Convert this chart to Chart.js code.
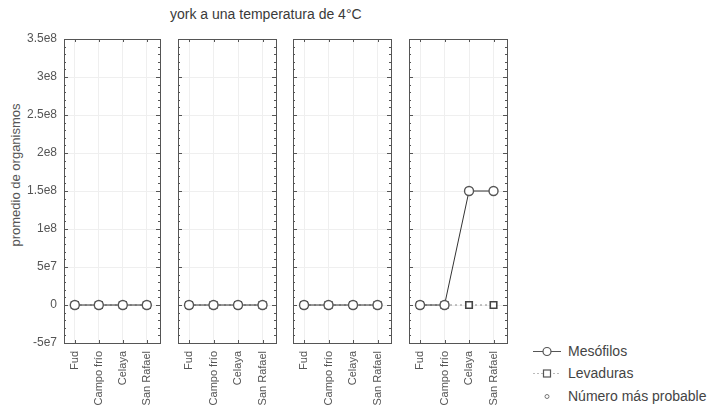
<!DOCTYPE html>
<html>
<head>
<meta charset="utf-8">
<script src="https://cdn.jsdelivr.net/npm/chart.js@4/dist/chart.umd.min.js"></script>
<style>
  body { margin: 0; background: #fff; }
  #wrap { position: relative; width: 723px; height: 412px; overflow: hidden;
          font-family: 'Liberation Sans', Arial, sans-serif; color: #444; }
  #wrap canvas { position: absolute; top: 0; }
  #title { position: absolute; left: 170px; top: 6px; font-size: 14px; color: #3a3a3a; white-space: nowrap; }
  #ytitle { position: absolute; left: 15px; top: 175px; font-size: 13px; color: #555; white-space: nowrap;
            transform: translate(-50%, -50%) rotate(-90deg); }
  .leg { position: absolute; left: 530px; height: 16px; font-size: 14px; color: #444; white-space: nowrap; }
  .leg svg { position: absolute; left: 0; top: 0; }
  .leg span { position: absolute; left: 38px; top: 0; line-height: 16px; }
</style>
</head>
<body>
<div id="wrap">
  <div id="title">york a una temperatura de 4°C</div>
  <div id="ytitle">promedio de organismos</div>
  <div class="leg" style="top:343px">
    <svg width="34" height="16"><line x1="3" y1="8.5" x2="31" y2="8.5" stroke="#555" stroke-width="1"/><circle cx="17" cy="8.5" r="4" fill="#fff" stroke="#555" stroke-width="1.2"/></svg>
    <span>Mesófilos</span>
  </div>
  <div class="leg" style="top:365px">
    <svg width="34" height="16"><line x1="3" y1="8.5" x2="31" y2="8.5" stroke="#bbb" stroke-width="1" stroke-dasharray="2,2"/><rect x="13.5" y="5" width="7" height="7" fill="#fff" stroke="#555" stroke-width="1.2"/></svg>
    <span>Levaduras</span>
  </div>
  <div class="leg" style="top:388px">
    <svg width="34" height="16"><circle cx="17" cy="8.5" r="2" fill="#fff" stroke="#777" stroke-width="1"/></svg>
    <span>Número más probable</span>
  </div>
</div>
<script>
// Sampling sites along the x axis of every panel
const categories = ['Fud', 'Campo frío', 'Celaya', 'San Rafael'];

// Mean organism counts, one row per panel
const mesofilos = [
  [0, 0, 0, 0],
  [0, 0, 0, 0],
  [0, 0, 0, 0],
  [0, 0, 1.5e8, 1.5e8]
];
const levaduras = [
  [0, 0, 0, 0],
  [0, 0, 0, 0],
  [0, 0, 0, 0],
  [0, 0, 0, 0]
];
const numeroMasProbable = [
  [0, 0, 0, 0],
  [0, 0, 0, 0],
  [0, 0, 0, 0],
  [0, 0, 0, 0]
];

// Value axis labels, bottom to top
const yTickLabels = ['-5e7', '0', '5e7', '1e8', '1.5e8', '2e8', '2.5e8', '3e8', '3.5e8'];

// Panel plot-area edges in page pixels
const panelLeft  = [64, 178, 293, 409];
const panelRight = [160, 276, 391, 507];
const PLOT_TOP = 39, PLOT_BOTTOM = 343, H = 412;
const Y_AXIS_W = 64, SIDE_PAD = 10;

const FONT = "'Liberation Sans', Arial, sans-serif";

// Box frame with minor ticks, drawn on every panel
const framePlugin = {
  id: 'frame',
  beforeDatasetsDraw(chart) {
    const { ctx, chartArea: a, scales } = chart;
    ctx.save();
    ctx.strokeStyle = '#555';
    ctx.lineWidth = 1;
    ctx.strokeRect(Math.round(a.left) + 0.5, Math.round(a.top) + 0.5,
                   Math.round(a.right - a.left), Math.round(a.bottom - a.top));
    ctx.beginPath();
    for (let k = -5; k <= 35; k++) {
      const y = Math.round(scales.y.getPixelForValue(k * 1e7)) + 0.5;
      const len = k % 5 === 0 ? 4 : 2;
      ctx.moveTo(a.left, y); ctx.lineTo(a.left + len, y);
      ctx.moveTo(a.right - len, y); ctx.lineTo(a.right, y);
    }
    categories.forEach((c, i) => {
      const x = Math.round(scales.x.getPixelForValue(i)) + 0.5;
      ctx.moveTo(x, a.top); ctx.lineTo(x, a.top + 3);
      ctx.moveTo(x, a.bottom - 3); ctx.lineTo(x, a.bottom);
    });
    ctx.stroke();
    ctx.restore();
  }
};

const toPoints = vals => vals.map((v, i) => ({ x: i, y: v }));

function makePanel(p) {
  const first = p === 0;
  const padL = first ? 0 : SIDE_PAD;
  const yW = first ? Y_AXIS_W : 0;
  const canvasLeft = panelLeft[p] - yW - padL;
  const width = padL + yW + (panelRight[p] - panelLeft[p]) + SIDE_PAD;

  const canvas = document.createElement('canvas');
  canvas.width = width;
  canvas.height = H;
  canvas.style.left = canvasLeft + 'px';
  canvas.style.width = width + 'px';
  canvas.style.height = H + 'px';
  document.getElementById('wrap').appendChild(canvas);

  new Chart(canvas, {
    type: 'line',
    data: {
      datasets: [
        {
          label: 'Mesófilos',
          data: toPoints(mesofilos[p]),
          borderColor: '#333', borderWidth: 1,
          pointStyle: 'circle', pointRadius: 4.5, pointBorderWidth: 1.4,
          pointBorderColor: '#555', pointBackgroundColor: '#fff',
          tension: 0, order: 1
        },
        {
          label: 'Levaduras',
          data: toPoints(levaduras[p]),
          borderColor: '#888', borderWidth: 1, borderDash: [2, 3],
          pointStyle: 'rect', pointRadius: 4.6, pointBorderWidth: 1.6,
          pointBorderColor: '#444', pointBackgroundColor: '#fff',
          tension: 0, order: 2
        },
        {
          label: 'Número más probable',
          data: toPoints(numeroMasProbable[p]),
          showLine: false,
          pointStyle: 'circle', pointRadius: 2, pointBorderWidth: 1,
          pointBorderColor: '#666', pointBackgroundColor: '#fff',
          order: 3
        }
      ]
    },
    options: {
      responsive: false,
      animation: false,
      devicePixelRatio: 1,
      layout: { padding: { top: PLOT_TOP, left: padL, right: SIDE_PAD, bottom: 0 } },
      plugins: { legend: { display: false }, tooltip: { enabled: false } },
      scales: {
        x: {
          type: 'linear',
          min: -0.45, max: 3.55,
          afterBuildTicks: s => { s.ticks = categories.map((c, i) => ({ value: i })); },
          afterFit: s => { s.height = H - PLOT_BOTTOM; },
          grid: { color: '#efefef', borderDash: [1, 4], drawTicks: false },
          border: { display: false },
          ticks: {
            autoSkip: false,
            minRotation: 90, maxRotation: 90, padding: 8,
            color: '#555', font: { family: FONT, size: 11 },
            callback: v => categories[v] ?? ''
          }
        },
        y: {
          min: -5e7, max: 3.5e8,
          afterFit: s => { s.width = yW; },
          grid: { color: '#efefef', borderDash: [1, 4], drawTicks: false },
          border: { display: false },
          ticks: {
            display: first, stepSize: 5e7, padding: 7,
            color: '#555', font: { family: FONT, size: 12 },
            callback: (v, i) => yTickLabels[i]
          }
        }
      }
    },
    plugins: [framePlugin]
  });
}

[0, 1, 2, 3].forEach(makePanel);
</script>
</body>
</html>
